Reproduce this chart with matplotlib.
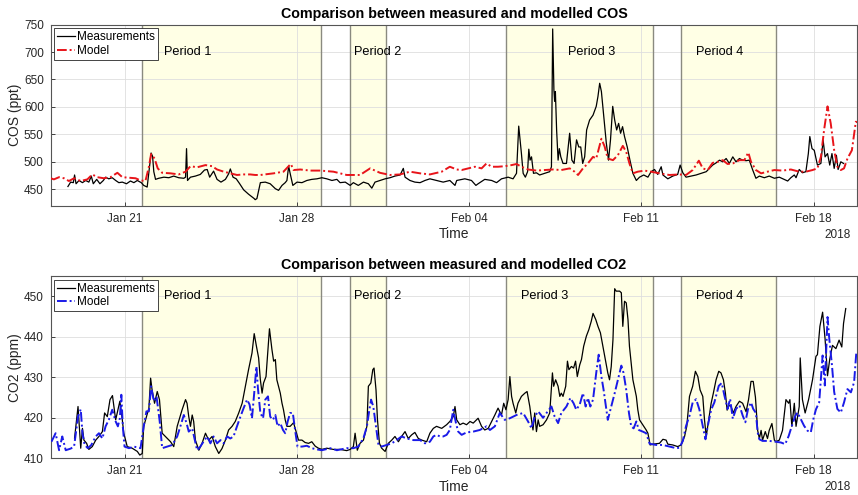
import numpy as np
import matplotlib
matplotlib.use('Agg')
import matplotlib.pyplot as plt

plt.rcParams['font.family'] = ['Liberation Sans', 'DejaVu Sans']

# ---------------- data (time in days since 2018-01-18 00:00) ----------------
cos_meas_day = [
    0.70, 0.81, 0.92, 0.97, 1.03, 1.15, 1.29, 1.42, 1.55, 1.65,
    1.73, 1.87, 2.00, 2.14, 2.23, 2.36, 2.50, 2.64, 2.77, 2.91,
    3.08, 3.24, 3.38, 3.52, 3.68, 3.78, 3.92, 4.00, 4.08, 4.14,
    4.19, 4.26, 4.39, 4.60, 4.80, 5.00, 5.20, 5.41, 5.48, 5.52,
    5.56, 5.68, 5.88, 6.08, 6.25, 6.36, 6.46, 6.62, 6.76, 6.92,
    7.10, 7.23, 7.30, 7.41, 7.54, 7.68, 7.84, 8.04, 8.27, 8.31,
    8.38, 8.52, 8.72, 8.92, 9.13, 9.26, 9.40, 9.53, 9.60, 9.67,
    9.73, 9.84, 10.01, 10.21, 10.41, 10.61, 10.82, 11.02, 11.22, 11.43,
    11.63, 11.76, 11.97, 12.17, 12.30, 12.50, 12.71, 12.91, 13.05, 13.18,
    13.38, 13.59, 13.79, 13.99, 14.20, 14.33, 14.40, 14.60, 14.80, 15.01,
    15.21, 15.41, 15.68, 15.95, 16.22, 16.43, 16.50, 16.83, 17.10, 17.28,
    17.37, 17.64, 17.92, 18.12, 18.32, 18.59, 18.79, 18.93, 19.02, 19.13,
    19.20, 19.29, 19.38, 19.43, 19.48, 19.54, 19.62, 19.74, 19.87, 20.08,
    20.28, 20.35, 20.40, 20.45, 20.48, 20.51, 20.56, 20.62, 20.67, 20.73,
    20.82, 20.96, 21.09, 21.18, 21.27, 21.37, 21.46, 21.54, 21.62, 21.70,
    21.78, 21.90, 22.04, 22.17, 22.24, 22.31, 22.38, 22.48, 22.58, 22.67,
    22.75, 22.84, 22.92, 23.00, 23.08, 23.16, 23.24, 23.32, 23.43, 23.54,
    23.66, 23.80, 23.93, 24.10, 24.27, 24.40, 24.54, 24.67, 24.81, 24.88,
    25.08, 25.28, 25.48, 25.58, 25.69, 25.82, 26.03, 26.23, 26.43, 26.64,
    26.77, 26.90, 27.04, 27.18, 27.31, 27.45, 27.58, 27.72, 27.85, 27.99,
    28.12, 28.26, 28.39, 28.53, 28.66, 28.80, 29.00, 29.20, 29.41, 29.61,
    29.81, 29.95, 30.08, 30.22, 30.29, 30.42, 30.55, 30.69, 30.79, 30.85,
    30.94, 31.03, 31.16, 31.30, 31.39, 31.47, 31.57, 31.66, 31.75, 31.84,
    31.93, 32.00, 32.11, 32.22]
cos_meas_val = [
    455, 463, 462, 476, 460, 466, 462, 466, 463, 474,
    460, 468, 460, 466, 472, 469, 471, 466, 462, 463,
    460, 465, 462, 466, 462, 457, 454, 485, 516, 510,
    482, 468, 470, 472, 471, 474, 471, 470, 472, 524,
    466, 472, 474, 477, 485, 486, 472, 483, 468, 463,
    468, 478, 487, 472, 469, 460, 449, 441, 433, 431,
    433, 462, 463, 460, 451, 448, 457, 462, 466, 492,
    479, 457, 463, 462, 466, 468, 469, 471, 469, 466,
    468, 462, 463, 457, 462, 457, 463, 460, 452, 463,
    466, 469, 471, 474, 476, 488, 472, 466, 463, 462,
    466, 469, 466, 463, 466, 457, 466, 469, 466, 457,
    460, 468, 466, 462, 469, 472, 469, 479, 565, 515,
    479, 472, 482, 523, 503, 509, 479, 480, 476, 479,
    482, 491, 742, 631, 610, 628, 558, 503, 524, 509,
    497, 497, 552, 503, 497, 540, 527, 527, 497, 509,
    558, 576, 585, 601, 619, 643, 628, 582, 534, 503,
    540, 601, 576, 558, 570, 552, 564, 546, 527, 503,
    479, 466, 472, 476, 472, 482, 486, 477, 491, 476,
    469, 474, 477, 494, 480, 472, 474, 476, 479, 482,
    488, 494, 498, 503, 500, 506, 497, 509, 500, 506,
    503, 502, 503, 485, 470, 474, 471, 474, 470, 472,
    468, 465, 471, 476, 471, 486, 480, 482, 515, 546,
    524, 521, 494, 497, 540, 509, 515, 494, 515, 488,
    512, 486, 500, 497]

cos_model_day = [
    0.00, 0.13, 0.34, 0.54, 0.74, 0.95, 1.22, 1.49, 1.69, 1.89,
    2.16, 2.43, 2.71, 2.91, 3.18, 3.45, 3.65, 3.85, 3.99, 4.08,
    4.22, 4.35, 4.53, 4.87, 5.20, 5.48, 5.68, 5.95, 6.29, 6.56,
    6.76, 7.03, 7.30, 7.57, 7.84, 8.11, 8.31, 8.52, 9.06, 9.46,
    9.71, 9.76, 9.87, 10.14, 10.55, 10.95, 11.49, 12.03, 12.57, 12.98,
    13.38, 13.79, 14.20, 14.60, 15.01, 15.41, 15.89, 16.22, 16.50, 16.70,
    16.97, 17.24, 17.51, 17.71, 17.92, 18.18, 18.45, 18.73, 18.93, 19.13,
    19.40, 19.74, 20.08, 20.41, 20.75, 21.09, 21.29, 21.43, 21.63, 21.83,
    22.04, 22.17, 22.38, 22.51, 22.64, 22.85, 23.05, 23.25, 23.39, 23.52,
    23.66, 23.86, 24.13, 24.40, 24.74, 25.14, 25.55, 25.82, 26.09, 26.34,
    26.50, 26.70, 26.90, 27.11, 27.31, 27.51, 27.72, 27.99, 28.19, 28.35,
    28.46, 28.66, 28.87, 29.13, 29.41, 29.74, 30.08, 30.42, 30.69, 30.96,
    31.16, 31.30, 31.43, 31.57, 31.70, 31.84, 31.97, 32.11, 32.24, 32.38,
    32.56, 32.72, 32.77]
cos_model_val = [
    470, 468, 472, 470, 465, 470, 465, 468, 477, 472,
    470, 472, 480, 472, 471, 470, 466, 465, 491, 514,
    506, 488, 480, 479, 477, 482, 492, 490, 494, 492,
    486, 482, 479, 476, 477, 477, 476, 476, 479, 482,
    494, 496, 485, 486, 484, 484, 482, 476, 476, 488,
    480, 476, 477, 482, 479, 477, 482, 491, 486, 485,
    488, 491, 488, 497, 491, 491, 492, 494, 496, 491,
    486, 484, 485, 486, 485, 488, 482, 476, 488, 497,
    509, 506, 542, 528, 506, 503, 512, 529, 518, 497,
    479, 482, 484, 482, 479, 476, 477, 476, 485, 502,
    488, 485, 498, 500, 503, 496, 497, 503, 503, 517,
    500, 485, 479, 482, 485, 484, 486, 482, 482, 485,
    488, 509, 558, 601, 570, 521, 491, 485, 488, 506,
    521, 573, 572]

co2_meas_day = [
    0.97, 1.11, 1.22, 1.29, 1.35, 1.46, 1.55, 1.69, 1.83, 1.96,
    2.10, 2.19, 2.30, 2.41, 2.51, 2.64, 2.73, 2.81, 2.91, 2.97,
    3.11, 3.31, 3.52, 3.62, 3.72, 3.78, 3.89, 3.99, 4.06, 4.12,
    4.22, 4.33, 4.42, 4.53, 4.66, 4.87, 5.00, 5.14, 5.34, 5.48,
    5.54, 5.61, 5.68, 5.75, 5.81, 5.88, 6.02, 6.15, 6.29, 6.42,
    6.56, 6.69, 6.83, 6.96, 7.10, 7.23, 7.37, 7.50, 7.64, 7.78,
    7.91, 8.04, 8.18, 8.27, 8.36, 8.45, 8.52, 8.59, 8.65, 8.75,
    8.83, 8.89, 8.99, 9.06, 9.13, 9.19, 9.26, 9.33, 9.40, 9.46,
    9.53, 9.60, 9.73, 9.87, 9.98, 10.07, 10.21, 10.34, 10.48, 10.61,
    10.75, 10.88, 11.02, 11.22, 11.49, 11.76, 12.03, 12.17, 12.30, 12.37,
    12.46, 12.57, 12.71, 12.85, 12.91, 13.01, 13.09, 13.14, 13.22, 13.28,
    13.36, 13.45, 13.59, 13.72, 13.86, 13.99, 14.13, 14.26, 14.40, 14.53,
    14.67, 14.80, 14.94, 15.08, 15.28, 15.41, 15.55, 15.68, 15.89, 16.09,
    16.22, 16.36, 16.43, 16.50, 16.63, 16.76, 16.90, 17.04, 17.17, 17.37,
    17.51, 17.64, 17.78, 17.92, 18.05, 18.18, 18.32, 18.41, 18.50, 18.59,
    18.66, 18.73, 18.79, 18.90, 18.99, 19.13, 19.27, 19.36, 19.47, 19.54,
    19.60, 19.67, 19.74, 19.81, 19.87, 20.01, 20.15, 20.28, 20.39, 20.44,
    20.52, 20.62, 20.69, 20.75, 20.82, 20.93, 21.00, 21.06, 21.16, 21.25,
    21.33, 21.40, 21.50, 21.57, 21.66, 21.77, 21.87, 21.97, 22.04, 22.15,
    22.24, 22.34, 22.44, 22.55, 22.64, 22.71, 22.78, 22.85, 22.92, 22.98,
    23.12, 23.19, 23.25, 23.32, 23.39, 23.46, 23.52, 23.66, 23.80, 23.86,
    23.93, 24.06, 24.20, 24.27, 24.36, 24.47, 24.74, 24.88, 25.01, 25.08,
    25.28, 25.48, 25.62, 25.76, 25.85, 25.96, 26.09, 26.20, 26.30, 26.39,
    26.50, 26.57, 26.64, 26.74, 26.84, 26.93, 27.04, 27.15, 27.24, 27.34,
    27.42, 27.49, 27.55, 27.65, 27.74, 27.85, 27.99, 28.12, 28.26, 28.36,
    28.46, 28.55, 28.64, 28.73, 28.80, 28.87, 28.93, 29.04, 29.13, 29.20,
    29.31, 29.41, 29.47, 29.61, 29.74, 29.88, 29.99, 30.04, 30.12, 30.22,
    30.29, 30.42, 30.46, 30.55, 30.66, 30.80, 30.96, 31.10, 31.16, 31.26,
    31.37, 31.47, 31.57, 31.66, 31.77, 31.91, 32.04, 32.15, 32.22, 32.31]
co2_meas_val = [
    415.0, 422.8, 412.5, 417.4, 414.5, 413.7, 412.2, 412.9, 414.5, 415.4,
    416.6, 421.2, 420.3, 424.5, 425.5, 419.5, 422.0, 424.1, 419.5, 416.2,
    412.9, 412.5, 411.7, 410.8, 411.2, 417.9, 420.3, 422.4, 429.8, 426.9,
    423.6, 426.5, 424.5, 416.2, 415.4, 414.1, 412.9, 417.9, 422.0, 424.5,
    423.6, 420.3, 417.9, 420.7, 419.1, 414.5, 412.0, 413.7, 416.2, 414.5,
    415.4, 412.9, 411.2, 412.4, 414.5, 417.0, 417.9, 419.1, 421.2, 423.6,
    427.8, 431.9, 436.0, 440.8, 437.7, 434.8, 429.4, 426.1, 428.6, 430.2,
    436.9, 442.0, 436.9, 434.0, 434.4, 429.4, 427.8, 426.1, 423.6, 422.0,
    419.5, 417.9, 417.9, 418.8, 416.4, 414.5, 414.5, 413.9, 413.7, 414.1,
    413.0, 412.5, 412.2, 412.5, 412.2, 412.2, 411.9, 412.2, 412.9, 416.2,
    412.0, 413.7, 414.5, 417.9, 427.8, 428.6, 431.9, 432.3, 426.9, 419.5,
    413.7, 412.5, 411.7, 413.7, 414.5, 415.4, 414.1, 415.4, 416.6, 414.9,
    415.8, 416.4, 414.9, 414.5, 414.1, 416.2, 417.4, 417.9, 417.4, 418.3,
    419.1, 420.3, 422.8, 419.5, 418.3, 418.7, 418.3, 419.1, 418.7, 419.9,
    417.9, 417.0, 417.4, 419.1, 420.7, 422.4, 420.7, 423.6, 422.0, 424.5,
    430.2, 425.3, 423.6, 421.2, 423.6, 425.3, 426.1, 426.5, 422.8, 419.5,
    417.0, 421.2, 416.6, 419.5, 417.9, 418.3, 419.5, 421.2, 431.1, 427.8,
    429.4, 427.8, 425.3, 426.1, 425.3, 427.8, 434.0, 431.9, 432.7, 432.3,
    434.0, 430.2, 433.1, 434.4, 437.7, 440.2, 441.8, 443.9, 445.8, 444.3,
    442.6, 441.0, 437.7, 434.0, 431.1, 429.4, 432.7, 439.3, 451.9, 451.3,
    451.3, 450.9, 442.6, 448.8, 448.4, 444.3, 437.7, 429.4, 425.3, 422.0,
    419.5, 418.3, 417.0, 416.2, 413.3, 413.5, 413.7, 414.7, 414.5, 413.5,
    413.3, 412.9, 413.3, 415.4, 417.9, 425.3, 427.8, 431.5, 430.2, 426.9,
    425.3, 419.5, 415.4, 419.5, 423.6, 426.1, 429.4, 431.5, 431.1, 429.4,
    426.1, 421.9, 423.1, 422.8, 421.2, 422.8, 424.1, 423.6, 421.5, 424.5,
    429.0, 429.0, 425.1, 416.9, 414.9, 416.9, 414.5, 416.6, 414.9, 416.9,
    418.6, 414.5, 414.1, 414.5, 416.9, 424.5, 423.6, 424.5, 417.9, 423.6,
    417.9, 422.8, 434.8, 424.5, 421.2, 424.5, 429.4, 435.2, 435.6, 442.6,
    446.1, 439.5, 430.4, 434.5, 437.9, 437.1, 439.2, 437.5, 443.3, 447.0]

co2_model_day = [
    0.03, 0.20, 0.34, 0.47, 0.61, 0.81, 0.95, 1.11, 1.22, 1.29,
    1.38, 1.51, 1.65, 1.83, 1.96, 2.10, 2.23, 2.36, 2.50, 2.64,
    2.73, 2.81, 2.87, 2.93, 3.00, 3.18, 3.38, 3.65, 3.78, 3.89,
    3.99, 4.08, 4.19, 4.30, 4.43, 4.53, 4.73, 4.94, 5.14, 5.27,
    5.41, 5.52, 5.61, 5.75, 5.95, 6.08, 6.25, 6.36, 6.49, 6.62,
    6.76, 6.90, 7.03, 7.17, 7.30, 7.43, 7.57, 7.71, 7.84, 7.98,
    8.08, 8.18, 8.27, 8.36, 8.42, 8.52, 8.63, 8.72, 8.83, 8.92,
    9.03, 9.13, 9.22, 9.33, 9.44, 9.53, 9.63, 9.73, 9.84, 9.94,
    10.03, 10.21, 10.41, 10.61, 10.82, 11.02, 11.36, 11.63, 12.03, 12.30,
    12.50, 12.71, 12.85, 12.95, 13.02, 13.11, 13.22, 13.32, 13.45, 13.66,
    13.86, 14.06, 14.26, 14.47, 14.74, 15.01, 15.21, 15.41, 15.55, 15.68,
    15.82, 15.95, 16.09, 16.22, 16.36, 16.47, 16.56, 16.70, 16.90, 17.17,
    17.44, 17.71, 17.85, 18.05, 18.25, 18.45, 18.66, 18.93, 19.20, 19.40,
    19.54, 19.67, 19.81, 20.01, 20.15, 20.35, 20.48, 20.62, 20.75, 20.96,
    21.12, 21.25, 21.36, 21.50, 21.63, 21.74, 21.83, 21.93, 22.04, 22.17,
    22.27, 22.38, 22.47, 22.58, 22.64, 22.78, 22.92, 23.05, 23.19, 23.28,
    23.39, 23.50, 23.59, 23.69, 23.80, 23.90, 24.06, 24.20, 24.34, 24.61,
    24.88, 25.15, 25.42, 25.55, 25.69, 25.82, 25.96, 26.09, 26.23, 26.36,
    26.50, 26.61, 26.70, 26.84, 26.97, 27.15, 27.27, 27.38, 27.51, 27.61,
    27.72, 27.85, 27.99, 28.12, 28.23, 28.34, 28.46, 28.55, 28.66, 28.73,
    28.80, 28.93, 29.20, 29.47, 29.68, 29.85, 29.99, 30.12, 30.26, 30.35,
    30.49, 30.62, 30.76, 30.89, 30.99, 31.10, 31.23, 31.37, 31.46, 31.57,
    31.64, 31.75, 31.84, 31.97, 32.11, 32.24, 32.38, 32.52, 32.65, 32.74]
co2_model_val = [
    414.1, 416.2, 412.0, 415.4, 412.0, 412.4, 412.9, 420.3, 422.1, 416.2,
    413.3, 412.5, 413.3, 415.4, 416.2, 414.9, 417.9, 419.5, 422.0, 419.1,
    417.9, 419.9, 425.7, 417.9, 412.9, 412.5, 412.9, 412.5, 417.9, 421.6,
    421.6, 427.8, 424.1, 425.3, 419.1, 412.5, 412.9, 413.3, 415.4, 417.9,
    420.7, 418.7, 416.6, 417.4, 412.0, 412.9, 414.5, 415.4, 413.7, 415.4,
    413.7, 414.5, 413.7, 415.4, 414.9, 415.4, 417.9, 420.3, 422.4, 424.5,
    423.3, 419.9, 426.1, 432.7, 427.4, 421.2, 419.9, 424.5, 425.3, 420.3,
    419.5, 420.7, 417.9, 418.7, 417.0, 416.2, 419.1, 421.2, 421.2, 416.6,
    412.9, 412.9, 413.1, 412.5, 412.2, 412.0, 412.5, 412.0, 412.5, 412.5,
    412.9, 415.0, 417.9, 422.0, 424.5, 422.8, 417.9, 413.3, 412.9, 413.3,
    413.7, 414.5, 415.4, 414.9, 414.5, 414.5, 413.7, 414.1, 415.4, 415.8,
    415.4, 415.4, 415.8, 417.0, 422.0, 418.7, 416.6, 415.8, 416.4, 416.6,
    417.0, 417.9, 417.0, 417.9, 421.2, 419.5, 419.9, 420.7, 421.2, 419.1,
    417.4, 420.3, 421.6, 420.0, 421.2, 422.8, 420.3, 418.7, 421.2, 422.8,
    424.9, 423.6, 422.0, 423.3, 426.1, 422.8, 424.9, 422.8, 424.5, 431.1,
    435.6, 430.2, 426.9, 422.0, 419.5, 422.8, 426.1, 429.4, 432.9, 431.1,
    426.9, 421.2, 417.9, 417.4, 419.1, 417.0, 416.6, 416.2, 413.6, 413.3,
    413.3, 412.9, 412.5, 412.6, 414.3, 418.0, 420.5, 423.8, 424.6, 422.1,
    417.9, 414.7, 417.9, 422.0, 423.8, 427.9, 428.6, 425.5, 422.2, 424.7,
    419.8, 422.2, 423.1, 420.6, 418.9, 422.2, 423.8, 422.2, 421.2, 416.4,
    414.7, 414.3, 414.3, 414.1, 413.9, 413.5, 415.5, 418.0, 420.5, 421.3,
    419.6, 418.0, 416.8, 416.4, 419.6, 422.1, 423.8, 435.4, 428.0, 444.9,
    439.6, 433.0, 426.4, 422.2, 421.3, 423.8, 427.1, 426.3, 428.8, 436.2]

period_names = ['Period 1', 'Period 2', 'Period 3', 'Period 4']
period_start = ['2018-01-21T17:15', '2018-01-30T04:00', '2018-02-05T12:00', '2018-02-12T14:40']
period_end = ['2018-01-29T00:00', '2018-01-31T15:00', '2018-02-11T11:00', '2018-02-16T11:45']

tick_dates = ['2018-01-21', '2018-01-28', '2018-02-04', '2018-02-11', '2018-02-18']
tick_labels = ['Jan 21', 'Jan 28', 'Feb 04', 'Feb 11', 'Feb 18']

start = np.datetime64('2018-01-18T00:00')


def to_dt(days):
    return start + (np.asarray(days) * 86400).round().astype('timedelta64[s]')


# ---------------- figure ----------------
fig = plt.figure(figsize=(8.58, 4.95), dpi=100)
ax1 = fig.add_axes([0.0591, 0.5844, 0.9398, 0.366])
ax2 = fig.add_axes([0.0591, 0.0741, 0.9398, 0.368])

dark = '#262626'


def style(ax, ylim, yticks, ylabel, title, label_pos, label_y):
    ax.set_axisbelow(True)
    for s, e in zip(period_start, period_end):
        ax.axvspan(np.datetime64(s), np.datetime64(e), facecolor='#ffffe5',
                   edgecolor='none', zorder=0.2)
        for b in (s, e):
            ax.axvline(np.datetime64(b), color='#8a8a80', lw=1.0, zorder=0.6)
    for name, pos in zip(period_names, label_pos):
        ax.text(np.datetime64(pos), label_y, name, ha='center', va='center',
                fontsize=9.2, color='black', zorder=5)
    ax.set_xlim(start, to_dt(32.77))
    ax.set_ylim(*ylim)
    ax.set_yticks(yticks)
    ax.set_xticks([np.datetime64(d) for d in tick_dates])
    ax.set_xticklabels(tick_labels)
    ax.grid(True, color='#dedede', lw=0.6)
    ax.tick_params(direction='in', length=3, width=0.6, colors=dark,
                   labelsize=8.5, pad=5)
    for sp in ax.spines.values():
        sp.set_color('#555555')
        sp.set_linewidth(0.8)
    ax.set_ylabel(ylabel, fontsize=10, color=dark, labelpad=1.5)
    ax.set_xlabel('Time', fontsize=10, color=dark, labelpad=2)
    ax.set_title(title, fontsize=10.3, fontweight='bold', pad=5)
    ax.annotate('2018', xy=(1, 0), xycoords='axes fraction', xytext=(-6, -29),
                textcoords='offset pixels', ha='right', va='center',
                fontsize=8.5, color=dark)


ax1.plot(to_dt(cos_meas_day), cos_meas_val, color='black', lw=0.9,
         label='Measurements', zorder=3)
ax1.plot(to_dt(cos_model_day), cos_model_val, color='#e8141a', lw=1.4,
         ls=(0, (5, 1.5, 1, 1.5)), label='Model', zorder=4)
style(ax1, (420, 750), np.arange(450, 751, 50), 'COS (ppt)',
      'Comparison between measured and modelled COS',
      ['2018-01-23T13:30', '2018-01-31T07:00', '2018-02-08T23:30', '2018-02-14T04:20'], 700)

ax2.plot(to_dt(co2_meas_day), co2_meas_val, color='black', lw=0.9,
         label='Measurements', zorder=3)
ax2.plot(to_dt(co2_model_day), co2_model_val, color='#1a1ae8', lw=1.4,
         ls=(0, (5, 1.5, 1, 1.5)), label='Model', zorder=4)
style(ax2, (410, 455), np.arange(410, 451, 10), 'CO2 (ppm)',
      'Comparison between measured and modelled CO2',
      ['2018-01-23T13:30', '2018-01-31T07:00', '2018-02-07T02:00', '2018-02-14T04:20'], 450)

for ax in (ax1, ax2):
    leg = ax.legend(loc='upper left', fontsize=8.5, handlelength=1.5,
                    handletextpad=0.2, borderpad=0.25, labelspacing=0.15,
                    borderaxespad=0.3, fancybox=False, edgecolor=dark,
                    framealpha=1)
    leg.get_frame().set_linewidth(0.6)
    leg.set_zorder(10)

fig.savefig('out.png', dpi=100)
